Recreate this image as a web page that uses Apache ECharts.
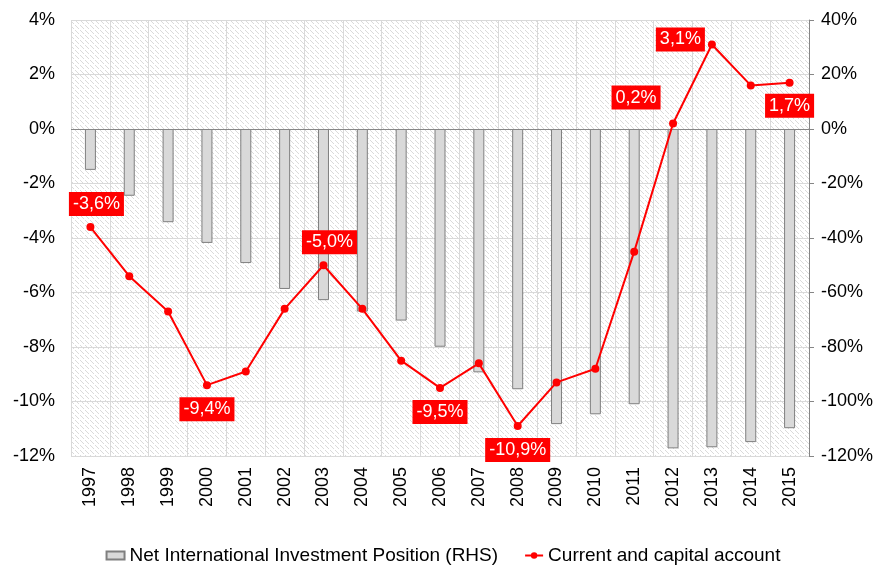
<!DOCTYPE html>
<html>
<head>
<meta charset="utf-8">
<script src="https://cdn.jsdelivr.net/npm/echarts@6/dist/echarts.min.js"></script>
<style>
  html, body { margin: 0; padding: 0; background: #fff; }
  #chart { width: 886px; height: 566px; }
</style>
</head>
<body>
<div id="chart"></div>
<script>
var years = ['1997','1998','1999','2000','2001','2002','2003','2004','2005','2006',
             '2007','2008','2009','2010','2011','2012','2013','2014','2015'];
// NIIP, % of GDP (right axis)
var niip = [-15.0,-24.5,-34.2,-41.8,-49.2,-58.7,-62.8,-67.0,-70.3,-79.9,
            -89.3,-95.5,-108.3,-104.7,-101.0,-117.2,-116.8,-114.9,-109.8];
// current and capital account, % of GDP (left axis)
var account = [-3.6,-5.4,-6.7,-9.4,-8.9,-6.6,-5.0,-6.6,-8.5,-9.5,
               -8.6,-10.9,-9.3,-8.8,-4.5,0.2,3.1,1.6,1.7];
var leftTicks = [-12, 4, 2];    // min, max, interval
var rightTicks = [-120, 40, 20];

// which points carry a label, and where
var labelPos = {
    0: {position: 'top', distance: 7, offset: [6, 0]},
    3: {position: 'bottom', distance: 8},
    6: {position: 'top', distance: 7, offset: [6, 0]},
    9: {position: 'bottom', distance: 8},
    11: {position: 'bottom', distance: 8},
    15: {position: 'top', distance: 5, offset: [-37, -5]},
    16: {position: 'left', distance: 3, offset: [0, -5]},
    18: {position: 'bottom', distance: 7}
};

function fmt(v){
    return v.toFixed(1).replace('.', ',') + '%';
}

// hatched background for the plot area
function hatch(){
    var c = document.createElement('canvas');
    c.width = 5; c.height = 5;
    var ctx = c.getContext('2d');
    ctx.fillStyle = '#fff';
    ctx.fillRect(0, 0, 5, 5);
    ctx.fillStyle = '#dadada';
    for(var i = 0; i < 5; i++){
        if(i == 4) continue;
        ctx.fillRect(i, i, 1, 1);
    }
    return c;
}

var lineData = account.map(function(v, i){
    var item = {value: v};
    if(labelPos[i]){
        var l = labelPos[i];
        item.label = {
            show: true,
            position: l.position,
            distance: l.distance,
            offset: l.offset || [0, 0],
            formatter: function(p){ return fmt(p.value); }
        };
    }
    return item;
});

var font = 'Liberation Sans, Arial, sans-serif';
var chart = echarts.init(document.getElementById('chart'));
var option = {
    animation: false,
    textStyle: {fontFamily: font},
    grid: {
        left: 71, right: 77, top: 20, bottom: 110,
        show: true,
        backgroundColor: {image: hatch(), repeat: 'repeat'},
        borderWidth: 0
    },
    legend: {
        top: 541,
        left: 'center',
        itemGap: 26,
        itemWidth: 18,
        itemHeight: 8,
        textStyle: {fontSize: 19, color: '#000', fontFamily: font},
        data: [
            {name: 'Net International Investment Position (RHS)', icon: 'rect'},
            {name: 'Current and capital account'}
        ]
    },
    xAxis: {
        type: 'category',
        data: years,
        boundaryGap: true,
        axisLine: {show: false},
        axisTick: {show: false},
        axisLabel: {rotate: 90, fontSize: 18, color: '#000', margin: 11},
        splitLine: {show: true, lineStyle: {color: '#d9d9d9', width: 1}}
    },
    yAxis: [
        {
            type: 'value',
            min: leftTicks[0], max: leftTicks[1], interval: leftTicks[2],
            axisLine: {show: false},
            axisTick: {show: false},
            axisLabel: {fontSize: 18, color: '#000', margin: 16, formatter: '{value}%'},
            splitLine: {show: true, lineStyle: {color: '#d9d9d9', width: 1}}
        },
        {
            type: 'value',
            position: 'right',
            min: rightTicks[0], max: rightTicks[1], interval: rightTicks[2],
            axisLine: {show: true, onZero: false, lineStyle: {color: '#868686', width: 1}},
            axisTick: {show: true, length: 5, lineStyle: {color: '#868686'}},
            axisLabel: {fontSize: 18, color: '#000', margin: 12, formatter: '{value}%'},
            splitLine: {show: false}
        }
    ],
    series: [
        {
            name: 'Net International Investment Position (RHS)',
            type: 'bar',
            yAxisIndex: 1,
            barWidth: 11,
            data: niip,
            itemStyle: {color: '#d9d9d9', borderColor: '#7f7f7f', borderWidth: 1},
            markLine: {
                silent: true,
                symbol: 'none',
                label: {show: false},
                lineStyle: {color: '#868686', type: 'solid', width: 1},
                data: [{yAxis: 0}]
            }
        },
        {
            name: 'Current and capital account',
            type: 'line',
            yAxisIndex: 0,
            data: lineData,
            symbol: 'circle',
            symbolSize: 8,
            lineStyle: {color: '#ff0000', width: 2},
            itemStyle: {color: '#ff0000'},
            label: {
                show: false,
                color: '#fff',
                backgroundColor: '#ff0000',
                fontSize: 18,
                padding: [3, 4, 3, 4],
                fontFamily: font
            },
            z: 5
        }
    ]
};
chart.setOption(option);
</script>
</body>
</html>
